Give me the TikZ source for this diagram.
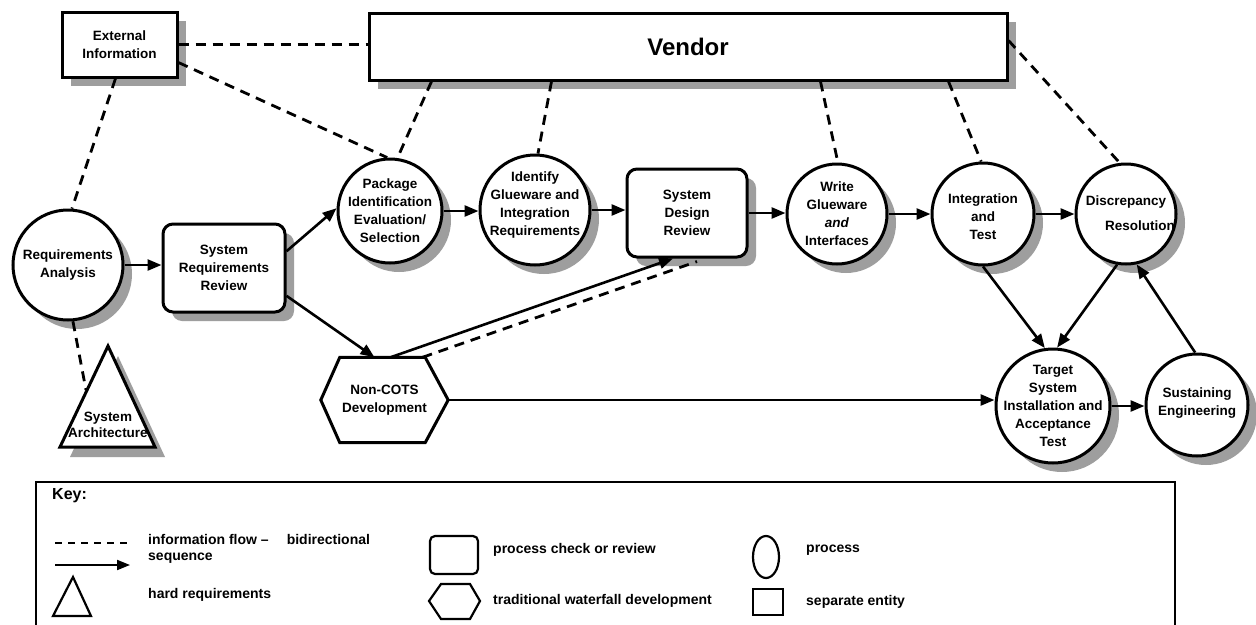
\documentclass[tikz,border=0pt]{standalone}
\usepackage{fontspec}
\setmainfont{Liberation Sans}
\usetikzlibrary{arrows.meta,shadows,calc}
\tikzset{
  base/.style={font=\bfseries\fontsize{13.5}{18}\selectfont, align=center},
  lbl/.style={base, inner sep=0pt},
  shd/.style={drop shadow={shadow xshift=9pt, shadow yshift=-9pt, fill=black!38, opacity=1}},
  proc/.style={circle, draw, line width=3pt, fill=white, inner sep=0pt, shd},
  review/.style={base, rectangle, rounded corners=10pt, draw, line width=3pt, fill=white, inner sep=0pt, shd},
  entity/.style={base, rectangle, draw, line width=3pt, fill=white, inner sep=0pt, shd},
  seq/.style={line width=2.6pt, -{Triangle[length=14pt,width=11pt]}},
  info/.style={line width=2.8pt, dash pattern=on 10pt off 7pt},
  keytxt/.style={font=\bfseries\fontsize{14}{16}\selectfont, anchor=west, inner sep=0pt},
  keyline/.style={line width=2.2pt},
}
\begin{document}
\begin{tikzpicture}[x=1pt,y=-1pt]
\useasboundingbox (0,0) rectangle (1256,624);
\fill[white] (0,0) rectangle (1256,624);
\clip (0,0) rectangle (1256,624);

% ---------- nodes ----------
\node[entity, minimum width=115pt, minimum height=65pt] (ext) at (119.5,44.5) {External\\Information};
\node[entity, minimum width=638pt, minimum height=67pt, font=\bfseries\fontsize{24}{28}\selectfont] (vendor) at (688,46.5) {Vendor};

\node[proc, minimum size=110pt, label={[lbl]center:{Requirements\\Analysis}}] (ra) at (68,265) {};
\node[review, minimum width=122pt, minimum height=88pt] (srr) at (224,268) {System\\Requirements\\Review};
\node[proc, minimum size=104pt, label={[lbl]center:{Package\\Identification\\Evaluation/\\Selection}}] (pkg) at (390,211) {};
\node[proc, minimum size=110pt, label={[lbl,yshift=5pt]center:{Identify\\Glueware and\\Integration\\Requirements}}] (idg) at (535,210) {};
\node[review, minimum width=120pt, minimum height=88pt] (sdr) at (687,213) {System\\Design\\Review};
\node[proc, minimum size=100pt, label={[lbl]center:{Write\\Glueware\\\textit{and}\\Interfaces}}] (wg) at (837,214) {};
\node[proc, minimum size=102pt, label={[lbl,yshift=-3pt]center:{Integration\\and\\Test}}] (it) at (983,214) {};
\node[proc, minimum size=100pt, label={[lbl,yshift=1pt]center:{Discrepancy\\[7pt]\hspace*{28pt}Resolution}}] (dr) at (1126,214) {};
\node[proc, minimum size=114pt, label={[lbl]center:{Target\\System\\Installation and\\Acceptance\\Test}}] (tsi) at (1053,406) {};
\node[proc, minimum size=102pt, label={[lbl,yshift=2pt]center:{Sustaining\\Engineering}}] (se) at (1197,405) {};

% Non-COTS hexagon
\node[lbl, minimum width=127pt, minimum height=85pt] (hex) at (384.5,400) {};
\draw[line width=3pt, line join=miter, fill=white] (hex.west) -- ($(hex.north west)+(19,0)$) -- ($(hex.north east)+(-23,0)$) -- (hex.east) -- ($(hex.south east)+(-23,0)$) -- ($(hex.south west)+(19,0)$) -- cycle;
\node[lbl] (hexT) at (hex) {Non-COTS\\Development};

% System Architecture triangle
\coordinate (tA) at (108,346);
\coordinate (tL) at (60,447);
\coordinate (tR) at (155,447);
\coordinate (archL) at (86,390);
\fill[black!38] ([shift={(10,10)}]tA) -- ([shift={(10,10)}]tL) -- ([shift={(10,10)}]tR) -- cycle;
\filldraw[fill=white, line width=3pt, line join=miter] (tA) -- (tL) -- (tR) -- cycle;
\node[lbl] (arch) at (108,425) {System\\[-2pt]Architecture};

% ---------- information flow (dashed) ----------
\draw[info] (ext.east) -- (vendor.west |- ext.east);
\draw[info] (ext.-17) -- (pkg.93);
\draw[info] ($(ext.south)+(-4,0)$) -- (ra.86);
\draw[info] ($(vendor.south west)+(64,0)$) -- (pkg.82);
\draw[info] ($(vendor.south west)+(184,0)$) -- (idg.87);
\draw[info] ($(vendor.south west)+(453,0)$) -- (wg.89);
\draw[info] ($(vendor.south west)+(581,0)$) -- (it.92);
\draw[info] ($(vendor.east)+(0,-6)$) -- (dr.97);
\draw[info] (ra.-85) -- (archL);
\draw[info] ($(hex.north)+(38,0)$) -- ($(sdr.south)+(10,3)$);

% ---------- sequence (arrows) ----------
\draw[seq] (ra.east) -- (srr.west |- ra.east);
\draw[seq] (srr.15) -- (pkg.177);
\draw[seq] (srr.-24) -- ($(hex.north)+(-10,0)$);
\draw[seq] (pkg.east) -- (idg.west |- pkg.east);
\draw[seq] (idg.east) -- (sdr.west |- idg.east);
\draw[seq] (sdr.east) -- (wg.west |- sdr.east);
\draw[seq] (wg.east) -- (it.west |- wg.east);
\draw[seq] (it.east) -- (dr.west |- it.east);
\draw[seq] (it.south) -- (tsi.98);
\draw[seq] (dr.260) -- (tsi.86);
\draw[seq] (se.92) -- (dr.-78);
\draw[seq] (tsi.east) -- (se.west |- tsi.east);
\draw[seq] (hex.east) -- (tsi.west |- hex.east);
\draw[seq] ($(hex.north)+(6,0)$) -- ($(sdr.south)+(-14,0)$);

% ---------- key ----------
\draw[keyline] (36,482) rectangle (1175,660);
\node[keytxt, font=\bfseries\fontsize{16}{18}\selectfont] (keyT) at (52,496) {Key:};
\coordinate (kd1) at (55,543);
\coordinate (kd2) at (132,543);
\draw[line width=2pt, dash pattern=on 7pt off 6pt] (kd1) -- (kd2);
\node[keytxt] (kInfo) at (148,539) {information flow --\hspace{18pt}bidirectional};
\node[keytxt] (kSeq) at (148,558) {sequence};
\coordinate (ka1) at (55,565);
\coordinate (ka2) at (130,565);
\draw[line width=2pt, -{Triangle[length=13pt,width=10pt]}] (ka1) -- (ka2);
\draw[keyline, line join=miter] (73,577) -- (53,616) -- (91,616) -- cycle;
\node[keytxt] (kHard) at (148,595) {hard requirements};
\draw[keyline, rounded corners=5pt] (430,536) rectangle (478,574);
\node[keytxt] (kRev) at (493,550) {process check or review};
\draw[keyline, line join=miter] (429,601) -- (441,584) -- (470,584) -- (480,601) -- (470,619) -- (441,619) -- cycle;
\node[keytxt] (kWat) at (493,601) {traditional waterfall development};
\draw[keyline] (766,557) ellipse [x radius=13, y radius=21];
\node[keytxt] (kProc) at (806,550) {process};
\draw[keyline] (753,589) rectangle (783,615);
\node[keytxt] (kEnt) at (806,602) {separate entity};
\end{tikzpicture}
\end{document}
